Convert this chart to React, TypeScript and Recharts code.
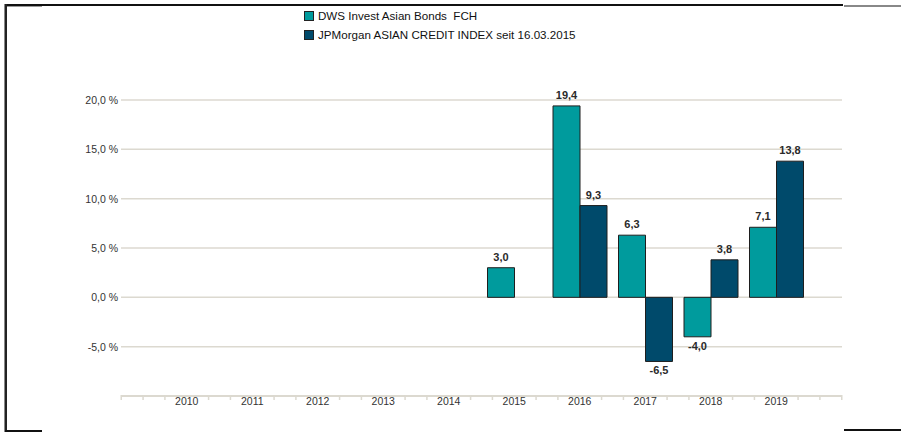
import React from 'react'
import { Bar, BarChart, CartesianGrid, LabelList, XAxis, YAxis } from 'recharts'

// ─── Data ──────────────────────────────────────────────────────────────────────
const years = ['2010', '2011', '2012', '2013', '2014', '2015', '2016', '2017', '2018', '2019']
const fundValues: (number | null)[] = [null, null, null, null, null, 3.0, 19.4, 6.3, -4.0, 7.1]
const indexValues: (number | null)[] = [null, null, null, null, null, null, 9.3, -6.5, 3.8, 13.8]
const yTicks = [-10, -5, 0, 5, 10, 15, 20]

const FUND_NAME = 'DWS Invest Asian Bonds  FCH'
const INDEX_NAME = 'JPMorgan ASIAN CREDIT INDEX seit 16.03.2015'

const TEAL = '#009b9d'
const NAVY = '#004a6b'
const GRID = '#dcd9d0'
const FONT = '"Liberation Sans", Arial, sans-serif'

const data = years.map((year, i) => ({ year, fund: fundValues[i], index: indexValues[i] }))

const fmt = (v: number) => v.toFixed(1).replace('.', ',')

// ─── X axis tick with minor marks ─────────────────────────────────────────────
const XTick = (props: any) => {
  const { x, y, payload, index, visibleTicksCount } = props
  const band = (payload?.offset ?? 32.75) * 2
  const top = y - 9
  const marks = [-band / 3, band / 3]
  if (index === 0) marks.push(-band, (-2 * band) / 3)
  if (index === visibleTicksCount - 1) marks.push(band, (2 * band) / 3)
  return (
    <g>
      {marks.map((dx, i) => (
        <line key={i} x1={x + dx} x2={x + dx} y1={top} y2={top + 5} stroke={GRID} strokeWidth={1.5} />
      ))}
      <text x={x} y={top + 10} textAnchor="middle" fontSize={10.5} fontFamily={FONT} fill="#333">
        {payload.value}
      </text>
    </g>
  )
}

const YTick = (props: any) => {
  const { x, y, payload } = props
  if (payload.value === -10) return null
  return (
    <text x={x} y={y + 4} textAnchor="end" fontSize={10.5} fontFamily={FONT} fill="#333">
      {fmt(payload.value)} %
    </text>
  )
}

const ValueLabel = (props: any) => {
  const { x, y, width, height, value } = props
  if (value === null || value === undefined) return null
  const top = Math.min(y, y + height)
  const bottom = Math.max(y, y + height)
  const cx = x + width / 2
  const ty = value >= 0 ? top - 7 : bottom + 13
  return (
    <text x={cx} y={ty} textAnchor="middle" fontSize={11} fontWeight={600} fontFamily={FONT} fill="#2a2a2a">
      {fmt(value)}
    </text>
  )
}

const LegendRow = ({ color, label }: { color: string; label: string }) => (
  <div style={{ display: 'flex', alignItems: 'center', height: 19 }}>
    <span style={{ width: 8, height: 8, background: color, border: '1px solid #222', marginRight: 4 }} />
    <span style={{ whiteSpace: 'pre' }}>{label}</span>
  </div>
)

// ─── Screenshot frame lines ───────────────────────────────────────────────────
const line = (style: React.CSSProperties) => <div style={{ position: 'absolute', ...style }} />

export default function App() {
  return (
    <div style={{ position: 'absolute', left: 0, top: 0, width: 901, height: 433, background: '#fff', overflow: 'hidden' }}>
      <BarChart
        width={901}
        height={433}
        data={data}
        margin={{ top: 100, right: 59, left: 0, bottom: 7 }}
        barGap={0}
        barSize={27}
      >
        <CartesianGrid horizontal vertical={false} stroke={GRID} strokeWidth={1.5} />
        <XAxis
          dataKey="year"
          height={30}
          padding={{ left: 33, right: 33 }}
          axisLine={{ stroke: GRID, strokeWidth: 2 }}
          tickLine={false}
          tick={<XTick />}
          interval={0}
        />
        <YAxis
          width={121}
          domain={[-10, 20]}
          ticks={yTicks}
          axisLine={false}
          tickLine={false}
          tickSize={3}
          tickMargin={0}
          tick={<YTick />}
        />
        <Bar dataKey="fund" name={FUND_NAME} fill={TEAL} stroke="#1e1e1e" strokeWidth={1} isAnimationActive={false}>
          <LabelList dataKey="fund" content={<ValueLabel />} />
        </Bar>
        <Bar dataKey="index" name={INDEX_NAME} fill={NAVY} stroke="#1e1e1e" strokeWidth={1} isAnimationActive={false}>
          <LabelList dataKey="index" content={<ValueLabel />} />
        </Bar>
      </BarChart>

      <div style={{ position: 'absolute', left: 304, top: 6, fontFamily: FONT, fontSize: 11.6, color: '#111' }}>
        <LegendRow color={TEAL} label={FUND_NAME} />
        <LegendRow color={NAVY} label={INDEX_NAME} />
      </div>

      {line({ left: 5, top: 4, width: 838, height: 2, background: '#111' })}
      {line({ left: 844, top: 5, width: 57, height: 2, background: '#888' })}
      {line({ left: 5, top: 6, width: 37, height: 1, background: '#999' })}
      {line({ left: 4, top: 4, width: 1, height: 428, background: '#888' })}
      {line({ left: 5, top: 4, width: 2, height: 428, background: '#222' })}
      {line({ left: 5, top: 430, width: 37, height: 2, background: '#111' })}
      {line({ left: 844, top: 429, width: 57, height: 2, background: '#111' })}
    </div>
  )
}
